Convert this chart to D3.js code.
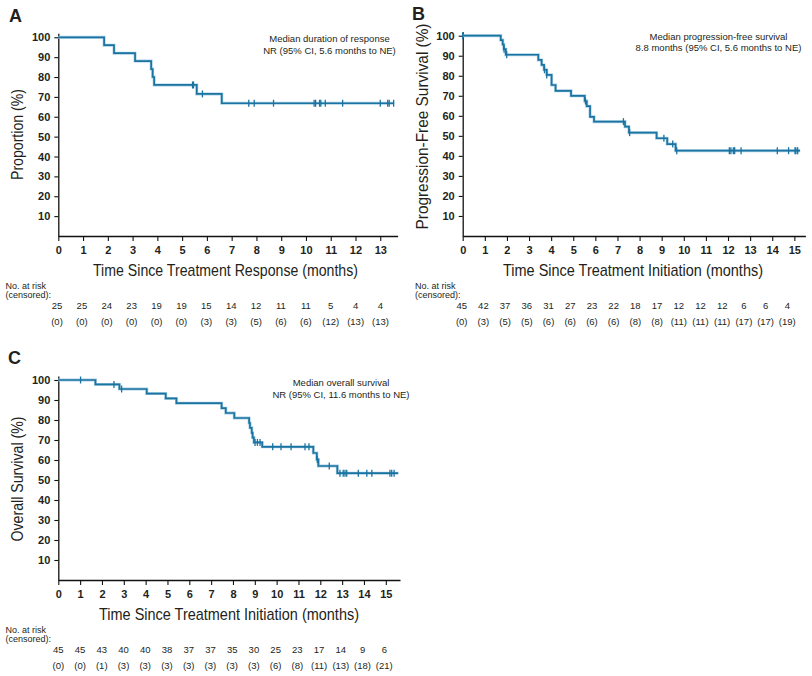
<!DOCTYPE html>
<html>
<head>
<meta charset="utf-8">
<script src="https://cdn.jsdelivr.net/npm/d3@7"></script>
<style>
  body { margin: 0; background: #fff; }
  text { font-family: "Liberation Sans", Arial, sans-serif; fill: #231f20; }
</style>
</head>
<body>
<svg id="chart" width="812" height="676"></svg>
<script>
// ---- panel A: duration of response ----
var timesA = [0, 1.85, 2.25, 3.10, 3.75, 3.81, 3.87, 5.59, 6.60];
var survA = [100, 96, 92, 88, 84, 80, 76, 71.5, 66.8];
var censorA = [5.42, 5.46, 5.82, 7.69, 7.91, 8.69, 10.33, 10.39, 10.55, 10.6, 10.78, 11.48, 13.0, 13.3, 13.36, 13.54];
var endA = 13.56;
var atRiskA = [25, 25, 24, 23, 19, 19, 15, 14, 12, 11, 11, 5, 4, 4];
var censoredA = [0, 0, 0, 0, 0, 0, 3, 3, 5, 6, 6, 12, 13, 13];

// ---- panel B: progression-free survival ----
var timesB = [0, 1.72, 1.81, 1.86, 1.95, 3.42, 3.57, 3.68, 3.8, 4.02, 4.2, 4.9, 5.52, 5.61, 5.76, 5.94, 7.34, 7.52, 8.77, 9.25, 9.63];
var survB = [100, 97.8, 95.6, 93.3, 90.5, 87.9, 85.4, 83.0, 80.4, 75.4, 72.5, 70.0, 67.4, 64.8, 59.5, 57.1, 54.6, 51.6, 48.8, 45.9, 42.6];
var censorB = [0, 1.87, 1.99, 3.7, 3.8, 5.55, 7.27, 7.55, 9.1, 9.5, 9.68, 12.06, 12.13, 12.24, 12.3, 12.59, 14.23, 14.74, 15.03, 15.07, 15.15];
var endB = 15.26;
var atRiskB = [45, 42, 37, 36, 31, 27, 23, 22, 18, 17, 12, 12, 12, 6, 6, 4];
var censoredB = [0, 3, 5, 5, 6, 6, 6, 6, 8, 8, 11, 11, 11, 17, 17, 19];

// ---- panel C: overall survival ----
var timesC = [0, 1.70, 2.80, 4.05, 4.92, 5.41, 7.48, 7.67, 8.06, 8.74, 8.78, 8.86, 8.9, 8.96, 9.34, 11.68, 11.84, 11.91, 12.78];
var survC = [100, 97.8, 95.5, 93.2, 90.8, 88.4, 85.9, 83.5, 81.0, 78.5, 76.1, 73.6, 71.2, 68.8, 66.6, 63.5, 60.3, 57.0, 53.4];
var censorC = [1.02, 2.55, 2.9, 9.01, 9.12, 9.24, 9.82, 10.2, 10.66, 11.3, 11.48, 11.86, 12.41, 12.9, 13.05, 13.13, 13.21, 13.74, 14.13, 14.36, 15.19, 15.27, 15.38];
var endC = 15.57;
var atRiskC = [45, 45, 43, 40, 40, 38, 37, 37, 35, 30, 25, 23, 17, 14, 9, 6];
var censoredC = [0, 0, 1, 3, 3, 3, 3, 3, 3, 3, 6, 8, 11, 13, 18, 21];

var yTickValues = [10, 20, 30, 40, 50, 60, 70, 80, 90, 100];

var svg = d3.select('#chart');
var lineColor = '#1b73a1';

function stepValue(times, surv, t) {
  var i = d3.bisectRight(times, t) - 1;
  return surv[Math.max(i, 0)];
}

function drawPanel(p) {
  var g = svg.append('g');
  var x = d3.scaleLinear().domain([0, p.xMax]).range([p.left, p.right]);
  var y = d3.scaleLinear().domain([0, 102]).range([p.bottom, p.top]);

  // axes
  var xAxis = d3.axisBottom(x)
    .tickValues(d3.range(0, p.lastTick + 1))
    .tickSize(5).tickSizeOuter(0).tickPadding(5);
  var gx = g.append('g')
    .attr('transform', 'translate(0,' + p.bottom + ')')
    .call(xAxis);
  var yAxis = d3.axisLeft(y)
    .tickValues(yTickValues)
    .tickSize(4).tickSizeOuter(0).tickPadding(4);
  var gy = g.append('g')
    .attr('transform', 'translate(' + p.left + ',0)')
    .call(yAxis);
  [gx, gy].forEach(function(a) {
    a.select('.domain').attr('stroke', '#111').attr('stroke-width', 1.3);
    a.selectAll('.tick line').attr('stroke', '#111').attr('stroke-width', 1.1);
    a.selectAll('.tick text')
      .style('font-family', '"Liberation Sans", Arial, sans-serif')
      .style('font-size', '11px')
      .style('font-weight', 'bold')
      .attr('fill', '#231f20');
  });

  // curve
  var pts = p.times.map(function(t, i) { return [t, p.surv[i]]; });
  pts.push([p.end, p.surv[p.surv.length - 1]]);
  var line = d3.line()
    .x(function(d) { return x(d[0]); })
    .y(function(d) { return y(d[1]); })
    .curve(d3.curveStepAfter);
  g.append('path').datum(pts)
    .attr('d', line).attr('fill', 'none')
    .attr('stroke', '#a9d0e4').attr('stroke-width', 3);
  g.append('path').datum(pts)
    .attr('d', line).attr('fill', 'none')
    .attr('stroke', lineColor).attr('stroke-width', 1.7);

  // censor marks
  g.selectAll('.cens').data(p.censor).enter()
    .append('line')
    .attr('x1', function(t) { return x(t); })
    .attr('x2', function(t) { return x(t); })
    .attr('y1', function(t) { return y(stepValue(p.times, p.surv, t)) - 3.5; })
    .attr('y2', function(t) { return y(stepValue(p.times, p.surv, t)) + 3.5; })
    .attr('stroke', lineColor).attr('stroke-width', 1.3);

  // panel letter
  g.append('text')
    .attr('x', p.letterX).attr('y', p.letterY)
    .style('font-size', '18px').style('font-weight', 'bold')
    .text(p.letter);

  // axis titles
  g.append('text')
    .attr('x', p.xTitleX).attr('y', p.bottom + 40)
    .attr('text-anchor', 'middle')
    .attr('textLength', p.xTitleW).attr('lengthAdjust', 'spacingAndGlyphs')
    .style('font-size', '17px')
    .text(p.xTitle);
  g.append('text')
    .attr('transform', 'translate(' + p.yTitleX + ',' + p.yTitleY + ') rotate(-90)')
    .attr('text-anchor', 'middle')
    .attr('textLength', p.yTitleW).attr('lengthAdjust', 'spacingAndGlyphs')
    .style('font-size', '17px')
    .text(p.yTitle);

  // median annotation
  p.note.forEach(function(s, i) {
    g.append('text')
      .attr('x', p.noteX).attr('y', p.noteY + i * 11.5)
      .attr('text-anchor', 'middle')
      .style('font-size', '9.5px')
      .text(s);
  });

  // number at risk table
  g.append('text').attr('x', p.riskLabelX).attr('y', p.bottom + 52.5)
    .style('font-size', '9px').text('No. at risk');
  g.append('text').attr('x', p.riskLabelX).attr('y', p.bottom + 62)
    .style('font-size', '9px').text('(censored):');
  var rx = d3.scaleLinear().domain([0, p.lastTick]).range(p.riskRange);
  p.atRisk.forEach(function(n, i) {
    g.append('text')
      .attr('x', rx(i)).attr('y', p.bottom + 72.5)
      .attr('text-anchor', 'middle')
      .style('font-size', '9.5px')
      .text(n);
    g.append('text')
      .attr('x', rx(i)).attr('y', p.bottom + 89)
      .attr('text-anchor', 'middle')
      .style('font-size', '9.5px')
      .text('(' + p.censored[i] + ')');
  });
}

drawPanel({
  letter: 'A', letterX: 9, letterY: 22,
  left: 58.3, right: 397.6, xMax: 13.7, lastTick: 13,
  top: 33.3, bottom: 236,
  times: timesA, surv: survA, censor: censorA, end: endA,
  xTitle: 'Time Since Treatment Response (months)', xTitleX: 225.5, xTitleW: 265,
  yTitle: 'Proportion (%)', yTitleX: 23, yTitleY: 134.5, yTitleW: 91,
  note: ['Median duration of response', 'NR (95% CI, 5.6 months to NE)'],
  noteX: 329.5, noteY: 42,
  riskLabelX: 5.5, riskRange: [57, 380.5],
  atRisk: atRiskA, censored: censoredA
});

drawPanel({
  letter: 'B', letterX: 412, letterY: 20,
  left: 462.7, right: 805.4, xMax: 15.5, lastTick: 15,
  top: 31.7, bottom: 236,
  times: timesB, surv: survB, censor: censorB, end: endB,
  xTitle: 'Time Since Treatment Initiation (months)', xTitleX: 633, xTitleW: 260,
  yTitle: 'Progression-Free Survival (%)', yTitleX: 427.5, yTitleY: 126.5, yTitleW: 206,
  note: ['Median progression-free survival', '8.8 months (95% CI, 5.6 months to NE)'],
  noteX: 718.5, noteY: 39.5,
  riskLabelX: 415, riskRange: [461.7, 787.3],
  atRisk: atRiskB, censored: censoredB
});

drawPanel({
  letter: 'C', letterX: 8, letterY: 364,
  left: 58.3, right: 400, xMax: 15.65, lastTick: 15,
  top: 376, bottom: 580,
  times: timesC, surv: survC, censor: censorC, end: endC,
  xTitle: 'Time Since Treatment Initiation (months)', xTitleX: 229, xTitleW: 260,
  yTitle: 'Overall Survival (%)', yTitleX: 23, yTitleY: 479, yTitleW: 125,
  note: ['Median overall survival', 'NR (95% CI, 11.6 months to NE)'],
  noteX: 341, noteY: 386,
  riskLabelX: 5.5, riskRange: [58.3, 384.3],
  atRisk: atRiskC, censored: censoredC
});
</script>
</body>
</html>
